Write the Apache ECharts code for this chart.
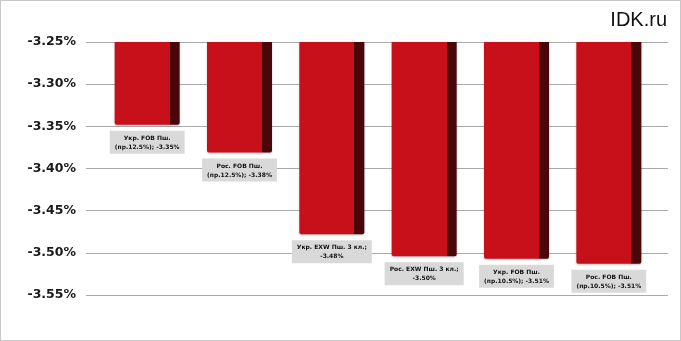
<!DOCTYPE html>
<html><head><meta charset="utf-8">
<script src="https://cdn.jsdelivr.net/npm/echarts@6/dist/echarts.min.js"></script>
<style>html,body{margin:0;padding:0;background:#fff}#c{width:679px;height:339px;border:1px solid #c8c8c8}</style>
</head><body><div id="c"></div>
<script>
var categories = ["Укр. FOB Пш.\n(пр.12.5%)", "Рос. FOB Пш.\n(пр.12.5%)", "Укр. EXW Пш. 3 кл.", "Рос. EXW Пш. 3 кл.", "Укр. FOB Пш.\n(пр.10.5%)", "Рос. FOB Пш.\n(пр.10.5%)"];
var values = [-3.348, -3.381, -3.478, -3.504, -3.507, -3.513];
var yMin = -3.55, yMax = -3.25, yStep = 0.05;
var brand = "IDK.ru";

var chart = echarts.init(document.getElementById('c'));
chart.setOption({
  animation: false,
  grid: [
    {left: 85, right: 12, top: 41, bottom: 45},
    {left: 100, right: 25, top: 41, bottom: 45}
  ],
  graphic: [{type: 'text', right: 13, top: 9, style: {text: brand, fontSize: 20, fontFamily: 'Liberation Sans, Arial', fill: '#111'}}],
  xAxis: [
    {gridIndex: 0, type: 'category', data: categories, show: false},
    {gridIndex: 1, type: 'category', data: categories, show: false}
  ],
  yAxis: [
    {gridIndex: 0, type: 'value', min: yMin, max: yMax, interval: yStep,
     axisLine: {show: false}, axisTick: {show: false},
     splitLine: {lineStyle: {color: '#aaaaaa', width: 1}},
     axisLabel: {margin: 10, fontSize: 12.5, fontWeight: 'bold', color: '#1a1a1a', fontFamily: 'DejaVu Sans',
       formatter: function (v) { return v.toFixed(2) + '%'; }}},
    {gridIndex: 1, type: 'value', min: yMin, max: yMax, interval: yStep, show: false, splitLine: {show: false}}
  ],
  series: [{
    type: 'bar', xAxisIndex: 1, yAxisIndex: 1, data: values, barWidth: 65, clip: true,
    itemStyle: {
      borderRadius: [0, 0, 2, 2],
      color: {type: 'linear', x: 0, y: 0, x2: 1, y2: 0, colorStops: [
        {offset: 0, color: '#c8101a'}, {offset: 0.845, color: '#c8101a'},
        {offset: 0.846, color: '#4a0609'}, {offset: 1, color: '#4a0609'}]},
      shadowColor: 'rgba(0,0,0,0.25)', shadowBlur: 2, shadowOffsetY: 1
    },
    label: {
      show: true, position: 'bottom', distance: 6,
      backgroundColor: '#d9d9d9', padding: [3, 5, 2, 5],
      fontSize: 6, fontWeight: 'bold', color: '#111', lineHeight: 9, align: 'center',
      fontFamily: 'DejaVu Sans',
      formatter: function (p) {
        var sep = p.name.indexOf('\n') >= 0 ? '; ' : ';\n';
        return p.name + sep + p.value.toFixed(2) + '%';
      }
    }
  }]
});
</script></body></html>
